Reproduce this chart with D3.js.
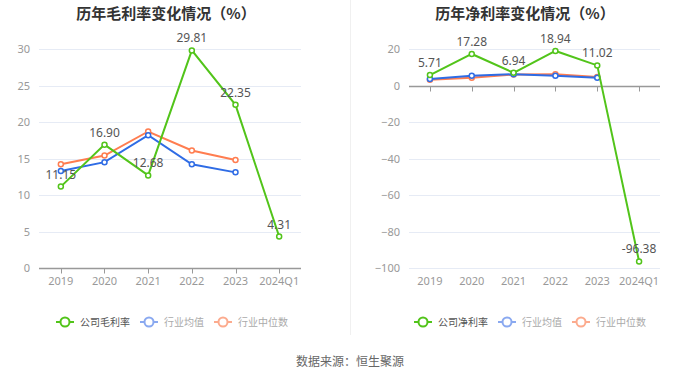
<!DOCTYPE html>
<html>
<head>
<meta charset="utf-8">
<script src="https://cdn.jsdelivr.net/npm/d3@7"></script>
<style>
  body { margin: 0; background: #fff; font-family: "Noto Sans CJK SC", "Noto Sans", sans-serif; }
  svg { display: block; }
</style>
</head>
<body>
<div id="chart"></div>
<script>
// categories
var years = ["2019", "2020", "2021", "2022", "2023", "2024Q1"];

// gross margin (%)
var grossCompany = [11.15, 16.90, 12.68, 29.81, 22.35, 4.31];
var grossMean = [13.3, 14.5, 18.2, 14.2, 13.1];
var grossMedian = [14.2, 15.4, 18.7, 16.1, 14.8];
var grossTicks = [0, 5, 10, 15, 20, 25, 30];

// net margin (%)
var netCompany = [5.71, 17.28, 6.94, 18.94, 11.02, -96.38];
var netMean = [3.5, 5.3, 6.2, 5.3, 4.2];
var netMedian = [3.2, 4.2, 6.0, 6.1, 4.6];
var netTicks = [-100, -80, -60, -40, -20, 0, 20];

var green = "#52c41a", blue = "#2f6ce5", orange = "#ff7d50";
var blueLight = "#8aa9f0", orangeLight = "#fcab8e";

function init() {
    var svg = d3.select("#chart").append("svg")
        .attr("width", 700)
        .attr("height", 378);

    // divider between the two charts
    svg.append("line")
        .attr("x1", 350.5).attr("x2", 350.5)
        .attr("y1", 0).attr("y2", 335)
        .attr("stroke", "#f0f0f0");

    drawChart(svg, {
        title: "历年毛利率变化情况（%）",
        cx: 166,
        xRange: [39, 301],
        domain: [0, 30],
        ticks: grossTicks,
        company: grossCompany,
        mean: grossMean,
        median: grossMedian,
        legend: ["公司毛利率", "行业均值", "行业中位数"],
        legendX: 56
    });

    drawChart(svg, {
        title: "历年净利率变化情况（%）",
        cx: 525,
        xRange: [409, 660],
        domain: [-100, 20],
        ticks: netTicks,
        company: netCompany,
        mean: netMean,
        median: netMedian,
        legend: ["公司净利率", "行业均值", "行业中位数"],
        legendX: 414
    });

    svg.append("text")
        .attr("x", 350)
        .attr("y", 366)
        .attr("text-anchor", "middle")
        .attr("font-size", 12)
        .attr("fill", "#666")
        .text("数据来源：恒生聚源");
}

function drawChart(svg, o) {
    var g = svg.append("g");

    g.append("text")
        .attr("x", o.cx)
        .attr("y", 19)
        .attr("text-anchor", "middle")
        .attr("font-size", 15)
        .attr("font-weight", "bold")
        .attr("fill", "#333")
        .text(o.title);

    var xScale = d3.scaleBand().domain(years).range(o.xRange);
    var yScale = d3.scaleLinear().domain(o.domain).range([268, 49]);
    var cx = d => xScale(d) + xScale.bandwidth() / 2;

    // grid lines
    g.selectAll(".grid")
        .data(o.ticks)
        .enter()
        .append("line")
        .attr("x1", o.xRange[0]).attr("x2", o.xRange[1])
        .attr("y1", d => Math.round(yScale(d)) + 0.5)
        .attr("y2", d => Math.round(yScale(d)) + 0.5)
        .attr("stroke", "#e6ebf5");

    // y labels
    var leftAxis = d3.axisLeft(yScale).tickValues(o.ticks).tickSize(0).tickPadding(9);
    var yAxis = g.append("g")
        .attr("transform", `translate(${o.xRange[0]},0)`)
        .call(leftAxis);
    yAxis.select(".domain").remove();
    yAxis.selectAll("text")
        .attr("font-family", "Noto Sans, sans-serif")
        .attr("font-size", 11)
        .attr("fill", "#999");

    // x axis at zero
    var zeroY = Math.round(yScale(0)) + 0.5;
    g.append("line")
        .attr("x1", o.xRange[0]).attr("x2", o.xRange[1])
        .attr("y1", zeroY).attr("y2", zeroY)
        .attr("stroke", "#999").attr("stroke-width", 1.5);
    g.selectAll(".xtick")
        .data(years)
        .enter()
        .append("line")
        .attr("x1", d => Math.round(cx(d)) + 0.5)
        .attr("x2", d => Math.round(cx(d)) + 0.5)
        .attr("y1", zeroY).attr("y2", zeroY + 5)
        .attr("stroke", "#999");
    g.selectAll(".xlabel")
        .data(years)
        .enter()
        .append("text")
        .attr("x", d => cx(d))
        .attr("y", 285)
        .attr("text-anchor", "middle")
        .attr("font-family", "Noto Sans, sans-serif")
        .attr("font-size", 11)
        .attr("fill", "#999")
        .text(d => d);

    var series = [
        { values: o.median, color: orange },
        { values: o.mean, color: blue },
        { values: o.company, color: green }
    ];

    var line = d3.line()
        .x((d, i) => cx(years[i]))
        .y(d => yScale(d));

    series.forEach(s => {
        g.append("path")
            .datum(s.values)
            .attr("d", line)
            .attr("fill", "none")
            .attr("stroke", s.color)
            .attr("stroke-width", 2);
        g.selectAll(null)
            .data(s.values)
            .enter()
            .append("circle")
            .attr("cx", (d, i) => cx(years[i]))
            .attr("cy", d => yScale(d))
            .attr("r", 2.5)
            .attr("fill", "#fff")
            .attr("stroke", s.color)
            .attr("stroke-width", 1.5);
    });

    // value labels for company
    g.selectAll(null)
        .data(o.company)
        .enter()
        .append("text")
        .attr("x", (d, i) => cx(years[i]))
        .attr("y", d => yScale(d) - 8)
        .attr("text-anchor", "middle")
        .attr("font-family", "Noto Sans, sans-serif")
        .attr("font-size", 12)
        .attr("fill", "#555")
        .text(d => d.toFixed(2));

    // legend
    var items = [
        { name: o.legend[0], color: green, text: "#555" },
        { name: o.legend[1], color: blueLight, text: "#aaa" },
        { name: o.legend[2], color: orangeLight, text: "#aaa" }
    ];
    var lx = o.legendX;
    var ly = 322;
    items.forEach(it => {
        var lg = g.append("g").attr("transform", `translate(${lx},${ly})`);
        lg.append("line")
            .attr("x1", 0).attr("x2", 18)
            .attr("stroke", it.color).attr("stroke-width", 2);
        lg.append("circle")
            .attr("cx", 9).attr("r", 4.5)
            .attr("fill", "#fff")
            .attr("stroke", it.color).attr("stroke-width", 2);
        var t = lg.append("text")
            .attr("x", 24)
            .attr("y", 3.5)
            .attr("font-size", 10)
            .attr("fill", it.text)
            .text(it.name);
        lx += 24 + t.node().getComputedTextLength() + 10;
    });
}

window.addEventListener('load', init, false);
</script>
</body>
</html>
